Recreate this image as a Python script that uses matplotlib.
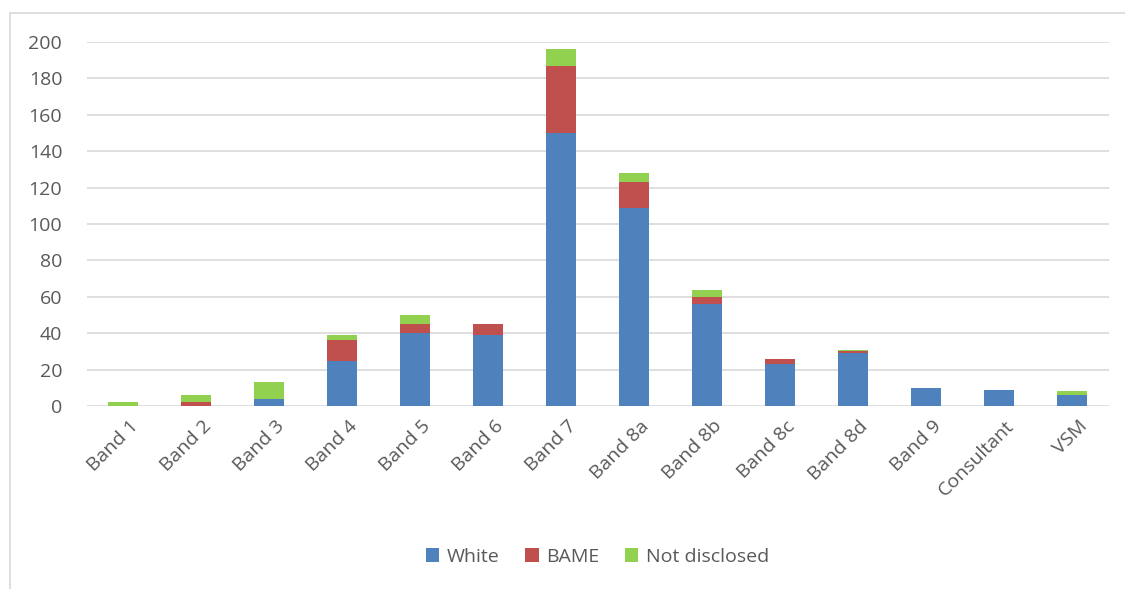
import numpy as np
import matplotlib
matplotlib.use("Agg")
import matplotlib.pyplot as plt
from matplotlib.patches import Rectangle

# values
bands = ["Band 1", "Band 2", "Band 3", "Band 4", "Band 5", "Band 6", "Band 7",
         "Band 8a", "Band 8b", "Band 8c", "Band 8d", "Band 9", "Consultant", "VSM"]
white = [0, 0, 4, 25, 40, 39, 150, 109, 56, 23, 29, 10, 9, 6]
bame = [0, 2, 0, 11, 5, 6, 37, 14, 4, 3, 1, 0, 0, 0]
not_disclosed = [2, 4, 9, 3, 5, 0, 9, 5, 4, 0, 1, 0, 0, 2]

plt.rcParams['font.family'] = ['Open Sans', 'DejaVu Sans']
txt = '#595959'

fig = plt.figure(figsize=(11.25, 5.89), dpi=100)
ax = fig.add_axes([86.5 / 1125, 1 - 406 / 589, 1022 / 1125, 364 / 589])

# light grey chart frame
fig.patches.append(Rectangle((10 / 1125, -0.1), 1.2, 1 - 13 / 589 + 0.1,
                             transform=fig.transFigure, fill=False,
                             edgecolor='#D9D9D9', linewidth=1.2))

x = np.arange(len(bands))
w = 0.4
white = np.array(white)
bame = np.array(bame)
not_disclosed = np.array(not_disclosed)
ax.bar(x, white, w, color='#4F81BD', label='White', zorder=3)
ax.bar(x, bame, w, bottom=white, color='#C0504D', label='BAME', zorder=3)
ax.bar(x, not_disclosed, w, bottom=white + bame, color='#92D050',
       label='Not disclosed', zorder=3)

ax.set_xlim(-0.5, len(bands) - 0.5)
ax.set_ylim(0, 200)
ax.set_yticks(range(0, 201, 20))
ax.grid(axis='y', color='#D9D9D9', linewidth=1.2, zorder=0)
for s in ax.spines.values():
    s.set_visible(False)
ax.tick_params(axis='both', length=0, colors=txt, labelsize=14)
ax.tick_params(axis='y', pad=17.5)
ax.tick_params(axis='x', pad=8)
ax.set_xticks(x + 0.08)
ax.set_xticklabels(bands, rotation=45, ha='right', rotation_mode='anchor')

ax.legend(loc='center', bbox_to_anchor=(0.5, (406 - 557) / 364),
          ncol=3, frameon=False, fontsize=14, labelcolor=txt,
          handlelength=0.7, handleheight=0.7, handletextpad=0.4, columnspacing=1.3)

fig.savefig('out.png', dpi=100)
